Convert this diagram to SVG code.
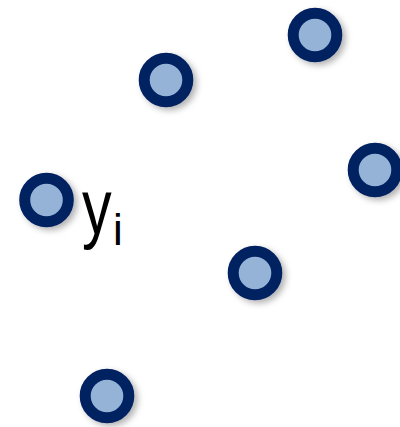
<svg xmlns="http://www.w3.org/2000/svg" width="400" height="427" viewBox="0 0 400 427">
  <style>
    .node { fill: #95b3d7; stroke: #002060; stroke-width: 11; filter: url(#sh); }
    .lbl { font-family: "Liberation Sans", Arial, sans-serif; fill: #000000; }
  </style>
  <defs>
    <filter id="sh" x="-30%" y="-30%" width="170%" height="170%">
      <feDropShadow dx="3.5" dy="3" stdDeviation="3" flood-color="#000000" flood-opacity="0.3"/>
    </filter>
  </defs>
  <rect width="400" height="427" fill="#ffffff"/>
  <g id="connectors"></g>
  <g id="n1"><circle class="node" cx="166" cy="80" r="21.8"/></g>
  <g id="n2"><circle class="node" cx="315" cy="35" r="21.8"/></g>
  <g id="n3"><circle class="node" cx="375" cy="170" r="21.8"/></g>
  <g id="n4">
    <circle class="node" cx="46.5" cy="200" r="21.8"/>
    <text class="lbl" font-size="78" transform="translate(82,234) scale(0.76,1)" x="0" y="0">y</text>
    <text class="lbl" font-size="44" x="113" y="245">i</text>
  </g>
  <g id="n5"><circle class="node" cx="255" cy="273" r="21.8"/></g>
  <g id="n6"><circle class="node" cx="107" cy="396" r="21.8"/></g>
</svg>
